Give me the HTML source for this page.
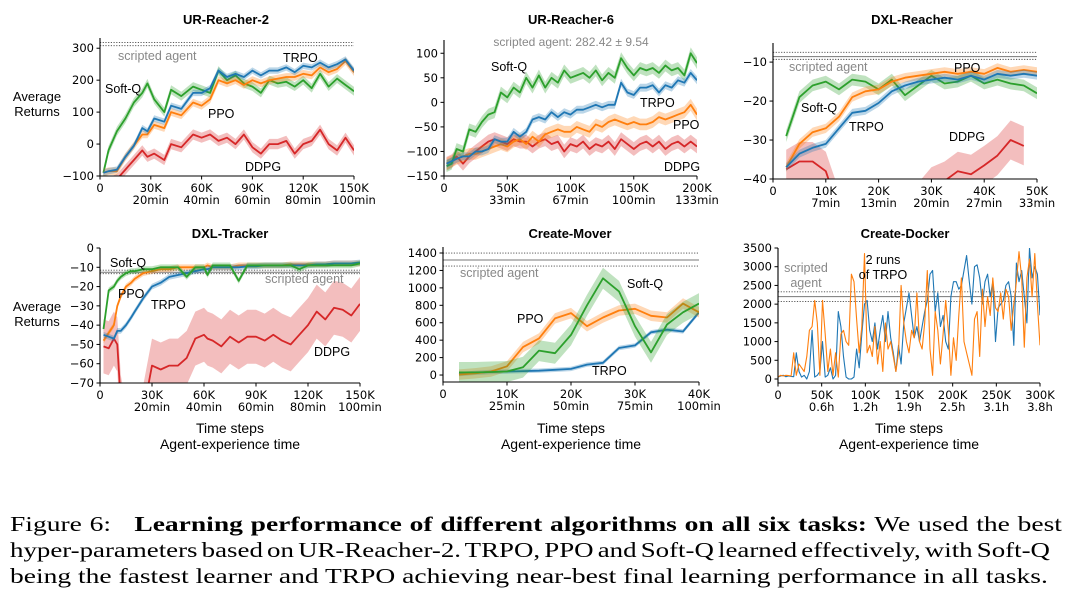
<!DOCTYPE html>
<html><head><meta charset="utf-8">
<style>
html,body{margin:0;padding:0;background:#fff;width:1069px;height:600px;overflow:hidden;position:relative}
svg{position:absolute;left:0;top:0}
.cap{position:absolute;left:10px;width:803px;transform:scaleX(1.31);transform-origin:0 0;font-family:"Liberation Serif",serif;font-size:21px;line-height:24px;white-space:nowrap;color:#000}
.just{text-align:justify;text-align-last:justify;white-space:normal;word-spacing:-2px}
.l2{word-spacing:-2px;transform:scaleX(1.28)}
</style></head>
<body>
<svg id="fig" width="1069" height="600" xmlns="http://www.w3.org/2000/svg"></svg>
<div class="cap just" style="top:512px">Figure 6:&nbsp;&nbsp; <b>Learning performance of different algorithms on all six tasks:</b> We used the best</div>
<div class="cap l2" style="top:538px">hyper-parameters based on UR-Reacher-2. TRPO, PPO and Soft-Q learned effectively, with Soft-Q</div>
<div class="cap" style="top:564px">being the fastest learner and TRPO achieving near-best final learning performance in all tasks.</div>
<script>
// ---------- DATA ----------
const p1X=[2,5,10,15,20,25,28,32,38,42,48,55,60,65,70,75,80,85,90,95,100,105,110,115,120,125,130,135,140,145,150];
const p1SoftQ=[-90,-20,40,80,130,160,190,140,100,170,150,180,170,160,230,200,215,190,180,160,200,190,195,180,200,175,220,180,205,185,165];
const p1TRPO=[-90,-85,-80,-40,-5,50,40,80,70,120,110,160,160,175,230,210,220,210,230,215,230,230,240,225,245,240,255,240,250,265,230];
const p1PPO=[-90,-85,-85,-40,-5,30,30,60,50,100,90,130,120,140,200,190,200,185,200,190,200,205,210,210,220,215,240,225,235,260,225];
const p1DDPG=[-130,-120,-110,-80,-50,-20,-40,-30,-50,0,-10,30,20,30,10,20,0,30,-10,-30,0,0,10,-30,0,10,45,0,-20,20,-20];

const p2X=[2,6,10,15,20,25,30,35,40,45,50,55,60,65,70,75,80,85,90,95,100,105,110,115,120,125,130,135,140,145,150,155,160,165,170,175,180,185,190,195,200];
const p2SoftQ=[-130,-125,-95,-100,-55,-60,-40,-25,-20,20,10,30,20,50,30,55,30,50,40,65,50,55,60,50,65,45,60,50,90,70,55,70,65,70,60,75,65,70,55,100,80];
const p2TRPO=[-125,-120,-115,-110,-110,-100,-100,-95,-75,-80,-80,-60,-70,-60,-35,-30,-35,-20,-30,-20,-25,-15,-15,-10,-5,-10,-5,-5,40,20,15,30,30,35,20,35,30,45,40,60,45];
const p2PPO=[-125,-120,-115,-110,-105,-105,-100,-95,-90,-85,-90,-80,-75,-85,-70,-80,-65,-60,-55,-60,-60,-50,-55,-60,-45,-50,-40,-35,-40,-45,-40,-45,-45,-40,-30,-35,-30,-25,-20,-5,-25];
const p2DDPG=[-125,-120,-110,-125,-110,-100,-90,-80,-75,-80,-85,-75,-80,-80,-90,-80,-75,-85,-80,-100,-85,-90,-80,-95,-85,-90,-80,-95,-75,-85,-95,-85,-80,-90,-80,-95,-85,-80,-90,-80,-90];

const p3X=[2.5,5,7.5,10,12.5,15,17.5,20,22.5,25,27.5,30,32.5,35,37.5,40,42.5,45,47.5,50];
const p3SoftQ=[-29,-19,-16,-15,-17,-14.5,-15,-17,-14.5,-18.5,-16,-13.5,-15.5,-15,-13.5,-15.5,-14.5,-15.5,-16,-18];
const p3PPO=[-37,-31,-28,-27,-24,-19,-17.5,-17,-15,-14,-13.5,-13,-12.5,-13,-12.5,-13,-11.5,-12.5,-12,-12.5];
const p3TRPO=[-37,-33.5,-32,-31,-27,-23,-22.5,-20.5,-17.5,-16,-15,-14.5,-14,-14.5,-13.5,-14.5,-13,-13.5,-13,-13.5];
const p3DDPG=[-37.5,-35.5,-35.5,-38,-48,null,null,null,null,null,-46,-42,-40.5,-38,-38.8,-36.5,-34,-30,-31.5,null];

const p4X=[2,5,8,10,12,15,18,20,25,30,35,40,45,50,55,60,62,65,70,75,80,85,90,95,100,105,110,115,120,125,130,135,140,145,150];
const p4SoftQ=[-42,-22,-20,-17,-15,-13,-12,-12,-11,-11,-10,-10,-10,-15,-10,-10,-14,-9,-9,-9,-17,-9,-9,-9,-9,-9,-9,-11,-9,-9,-9,-9,-9,-9,-8];
const p4PPO=[-48,-44,-40,-30,-25,-20,-18,-16,-13,-12,-11,-11,-10,-10,-10,-10,-9,-10,-10,-10,-9,-9,-9,-9,-9,-9,-8.5,-8.5,-8.5,-8.5,-8.5,-8,-8,-8,-8];
const p4TRPO=[-45,-46,-47,-43,-43,-40,-36,-33,-26,-20,-18,-15,-14,-13,-12,-11,-11,-10,-10,-10,-10,-9.5,-9.5,-9,-9,-9,-9,-9,-9,-8.5,-8.5,-8,-8,-8,-7.5];
const p4DDPG=[-51,-52,-47,-50,-80,-95,null,null,-85,-61,-63,-61,-61,-57,-47,-45,-47,-48,-51,-46,-49,-46,-46,-48,-45,-48,-50,-45,-40,-33,-37,-31,-32,-35,-29];

const p5X=[2.5,5,7.5,10,12.5,15,17.5,20,22.5,25,27.5,30,32.5,35,37.5,40];
const p5PPO=[5,20,40,100,320,420,650,710,560,660,740,760,680,660,820,720];
const p5SoftQ=[30,30,35,40,90,280,250,460,800,1110,960,560,260,580,720,820];
const p5TRPO=[10,25,35,40,45,50,60,70,120,140,310,340,490,520,500,720];

const p6Run1=[50,80,100,60,80,70,60,700,200,50,100,0,200,1300,50,100,200,1000,50,100,300,0,100,1800,1400,600,50,0,0,50,800,300,1200,2000,2100,1300,1000,1500,800,1300,1700,1000,1800,1100,700,200,900,400,1500,1900,2300,1700,1100,1400,1000,1400,1800,2100,2800,2900,1800,2300,1400,1700,1000,800,2200,2600,2600,2400,2500,2900,3300,2600,2000,3000,3050,2700,2000,2600,2800,2200,2600,1000,1900,2000,2100,2500,2600,2200,900,3100,2600,2900,2200,1500,3500,2700,3000,2800,1700];
const p6Run2=[50,100,80,100,90,80,700,100,400,300,200,600,1300,1400,2100,1500,100,2100,1200,200,800,100,700,50,1200,1300,1000,900,2800,2600,1600,700,1400,3350,700,900,600,1400,400,1000,200,1500,800,1000,600,200,700,2500,1500,1000,700,1300,1100,2300,1000,800,1500,2900,800,100,1800,1300,400,1200,2100,1300,100,1100,500,1700,2700,1000,700,400,100,1600,1800,600,2400,1400,2200,1700,2700,1900,1800,2300,1600,2400,2200,1300,2000,2600,3400,2700,850,2700,3200,2200,3350,2000,900];

const C={blue:'#1f77b4',orange:'#ff7f0e',green:'#2ca02c',red:'#d62728'};
const NS='http://www.w3.org/2000/svg';
const svg=document.getElementById('fig');
function mk(tag,attrs,parent){const e=document.createElementNS(NS,tag);for(const k in attrs)e.setAttribute(k,attrs[k]);(parent||svg).appendChild(e);return e;}
function txt(x,y,s,size,anchor,fill,weight,family,parent){const t=mk('text',{x:x,y:y,'font-size':size,'text-anchor':anchor||'start',fill:fill||'#000','font-weight':weight||'normal','font-family':family||'"Liberation Sans",sans-serif'},parent);t.textContent=s;return t;}

let clipId=0;
function panel(cfg){
  const g=mk('g',{});
  
  
  const sx=v=>cfg.l+(v-cfg.x0)/(cfg.x1-cfg.x0)*(cfg.r-cfg.l);
  const sy=v=>cfg.b-(v-cfg.y0)/(cfg.y1-cfg.y0)*(cfg.b-cfg.t);
  const id='clip'+(clipId++);
  const cp=mk('clipPath',{id:id},g);mk('rect',{x:cfg.l,y:cfg.t,width:cfg.r-cfg.l,height:cfg.b-cfg.t},cp);
  const plot=mk('g',{'clip-path':'url(#'+id+')'},g);
  (cfg.ref||[]).forEach(r=>{const ln=mk('line',{x1:cfg.l,x2:cfg.r,y1:sy(r.v),y2:sy(r.v),stroke:r.solid?'#777':'#444','stroke-width':r.solid?1:0.9,'stroke-dasharray':r.solid?'':'1.2,1.5'},plot);
    });
  cfg.series.forEach(s=>{
    if(s.band){
      const segs=[];let cur=[];
      s.y.forEach((v,i)=>{if(v===null){if(cur.length)segs.push(cur);cur=[];}else cur.push(i);});
      if(cur.length)segs.push(cur);
      segs.forEach(seg=>{
        let d='';seg.forEach((i,k)=>{d+=(k?'L':'M')+sx(s.x[i]).toFixed(1)+','+sy(s.y[i]+s.band).toFixed(1);});
        for(let k=seg.length-1;k>=0;k--){const i=seg[k];d+='L'+sx(s.x[i]).toFixed(1)+','+sy(s.y[i]-s.band).toFixed(1);}
        const b=mk('path',{d:d+'Z',fill:s.color,'fill-opacity':0.3,stroke:'none'},plot);
        
        
      });
    }
    let d='',pen=false;
    s.y.forEach((v,i)=>{if(v===null){pen=false;return;}d+=(pen?'L':'M')+sx(s.x[i]).toFixed(1)+','+sy(v).toFixed(1);pen=true;});
    const p=mk('path',{d:d,fill:'none',stroke:s.color,'stroke-width':s.w||1.8,'stroke-linejoin':'round'},plot);
    
    
  });
  mk('line',{x1:cfg.l,x2:cfg.l,y1:cfg.t,y2:cfg.b+0.5,stroke:'#000','stroke-width':1.1},g);
  mk('line',{x1:cfg.l-0.5,x2:cfg.r,y1:cfg.b,y2:cfg.b,stroke:'#000','stroke-width':1.1},g);
  cfg.yt.forEach(v=>{const y=sy(v);mk('line',{x1:cfg.l-3.5,x2:cfg.l,y1:y,y2:y,stroke:'#000','stroke-width':1},g);
    const t=txt(cfg.l-6,y+4,String(v).replace('-','\u2212'),11.5,'end','#000','normal','"DejaVu Sans",sans-serif',g);
    });
  cfg.xt.forEach((v,i)=>{const x=sx(v);mk('line',{x1:x,x2:x,y1:cfg.b,y2:cfg.b+3.5,stroke:'#000','stroke-width':1},g);
    const t=txt(x,cfg.b+16,cfg.xl[i],11.5,'middle','#000','normal','"DejaVu Sans",sans-serif',g);
    
    if(cfg.xl2[i]){const t2=txt(x,cfg.b+28,cfg.xl2[i],11.5,'middle','#000','normal','"DejaVu Sans",sans-serif',g);
      }});
  const tt=txt(cfg.tx,cfg.ty,cfg.title,13,'middle','#000','bold',null,g);
  
  (cfg.labels||[]).forEach(L=>{const t=txt(L[0],L[1],L[2],L[3]||12.5,L[4]||'start',L[5]||'#000',null,null,g);
    });
}
const kX=[0,30,60,90,120,150], kXl=['0','30K','60K','90K','120K','150K'], kXl2=['','20min','40min','60min','80min','100min'];
panel({name:'ur-reacher-2-panel',title:'UR-Reacher-2',tx:226,ty:24,l:100,r:354,t:38,b:176,x0:0,x1:150,y0:-100,y1:332,
  yt:[-100,0,100,200,300],xt:kX,xl:kXl,xl2:kXl2,
  ref:[{v:318},{v:308}],
  series:[{name:'ddpg',x:p1X,y:p1DDPG,color:C.red,band:16},{name:'soft-q',x:p1X,y:p1SoftQ,color:C.green,band:14},
          {name:'ppo',x:p1X,y:p1PPO,color:C.orange,band:12},{name:'trpo',x:p1X,y:p1TRPO,color:C.blue,band:10}],
  labels:[[118,60,'scripted agent',12.5,'start','#888'],[283,62,'TRPO'],[105,93,'Soft-Q'],[208,118,'PPO'],[245,171,'DDPG']]});
panel({name:'ur-reacher-6-panel',title:'UR-Reacher-6',tx:571,ty:24,l:444,r:697,t:40,b:176,x0:0,x1:200,y0:-150,y1:127,
  yt:[-150,-100,-50,0,50,100],xt:[0,50,100,150,200],xl:['0','50K','100K','150K','200K'],xl2:['','33min','67min','100min','133min'],
  series:[{name:'ddpg',x:p2X,y:p2DDPG,color:C.red,band:14},{name:'ppo',x:p2X,y:p2PPO,color:C.orange,band:12},
          {name:'soft-q',x:p2X,y:p2SoftQ,color:C.green,band:12},{name:'trpo',x:p2X,y:p2TRPO,color:C.blue,band:8}],
  labels:[[571,46,'scripted agent: 282.42 \u00b1 9.54',12,'middle','#888'],[491,71,'Soft-Q'],[640,107,'TRPO'],[673,129,'PPO'],[664,171,'DDPG']]});
panel({name:'dxl-reacher-panel',title:'DXL-Reacher',tx:912,ty:24,l:773,r:1037,t:43,b:179,x0:0,x1:50,y0:-40,y1:-5.1,
  yt:[-40,-30,-20,-10],xt:[0,10,20,30,40,50],xl:['0','10K','20K','30K','40K','50K'],xl2:['','7min','13min','20min','27min','33min'],
  ref:[{v:-7.5},{v:-8.6,solid:true},{v:-9.3}],
  series:[{name:'ddpg',x:p3X,y:p3DDPG,color:C.red,band:5},{name:'soft-q',x:p3X,y:p3SoftQ,color:C.green,band:1.5},
          {name:'ppo',x:p3X,y:p3PPO,color:C.orange,band:1.2},{name:'trpo',x:p3X,y:p3TRPO,color:C.blue,band:1}],
  labels:[[789,71,'scripted agent',12.5,'start','#888'],[954,72,'PPO'],[801,112,'Soft-Q'],[849,131,'TRPO'],[949,141,'DDPG']]});
panel({name:'dxl-tracker-panel',title:'DXL-Tracker',tx:230,ty:238,l:100,r:360,t:248,b:383,x0:0,x1:150,y0:-70,y1:0,
  yt:[-70,-60,-50,-40,-30,-20,-10,0],xt:kX,xl:kXl,xl2:kXl2,
  ref:[{v:-11.5},{v:-12.6,solid:true},{v:-13.3}],
  series:[{name:'ddpg',x:p4X,y:p4DDPG,color:C.red,band:14},{name:'ppo',x:p4X,y:p4PPO,color:C.orange,band:1.5},
          {name:'trpo',x:p4X,y:p4TRPO,color:C.blue,band:1.5},{name:'soft-q',x:p4X,y:p4SoftQ,color:C.green,band:1.5}],
  labels:[[110,267,'Soft-Q'],[265,283,'scripted agent',12.5,'start','#888'],[118,298,'PPO'],[151,309,'TRPO'],[314,356,'DDPG']]});
panel({name:'create-mover-panel',title:'Create-Mover',tx:570,ty:238,l:443,r:699,t:247,b:382,x0:0,x1:40,y0:-80,y1:1469,
  yt:[0,200,400,600,800,1000,1200,1400],xt:[0,10,20,30,40],xl:['0','10K','20K','30K','40K'],xl2:['','25min','50min','75min','100min'],
  ref:[{v:1400},{v:1320,solid:true},{v:1250}],
  series:[{name:'trpo',x:p5X,y:p5TRPO,color:C.blue,band:25},{name:'ppo',x:p5X,y:p5PPO,color:C.orange,band:60},
          {name:'soft-q',x:p5X,y:p5SoftQ,color:C.green,band:120}],
  labels:[[460,277,'scripted agent',12.5,'start','#888'],[627,288,'Soft-Q'],[517,323,'PPO'],[592,375,'TRPO']]});
const p6X=p6Run1.map((v,i)=>i*300/(p6Run1.length-1));
const p6X2=p6Run2.map((v,i)=>i*300/(p6Run2.length-1));
panel({name:'create-docker-panel',title:'Create-Docker',tx:905,ty:238,l:778,r:1040,t:248,b:383,x0:0,x1:300,y0:-107,y1:3500,
  yt:[0,500,1000,1500,2000,2500,3000,3500],xt:[0,50,100,150,200,250,300],xl:['0','50K','100K','150K','200K','250K','300K'],xl2:['','0.6h','1.2h','1.9h','2.5h','3.1h','3.8h'],
  ref:[{v:2330},{v:2200,solid:true},{v:2070}],
  series:[{name:'trpo-run-1',x:p6X,y:p6Run1,color:C.blue,w:1.1},{name:'trpo-run-2',x:p6X2,y:p6Run2,color:C.orange,w:1.1}],
  labels:[[806,272,'scripted',12.5,'middle','#888'],[806,287,'agent',12.5,'middle','#888'],[883,264,'2 runs',12.5,'middle'],[883,279,'of TRPO',12.5,'middle']]});
[[37,101,'Average'],[37,116,'Returns'],[37,311,'Average'],[37,326,'Returns']].forEach(a=>{const t=txt(a[0],a[1],a[2],13,'middle');
  });
[230,571,909].forEach(cx=>{
  const a=txt(cx,433,'Time steps',14,'middle');
  const b=txt(cx,449,'Agent-experience time',14,'middle');
});
</script>
</body></html>
